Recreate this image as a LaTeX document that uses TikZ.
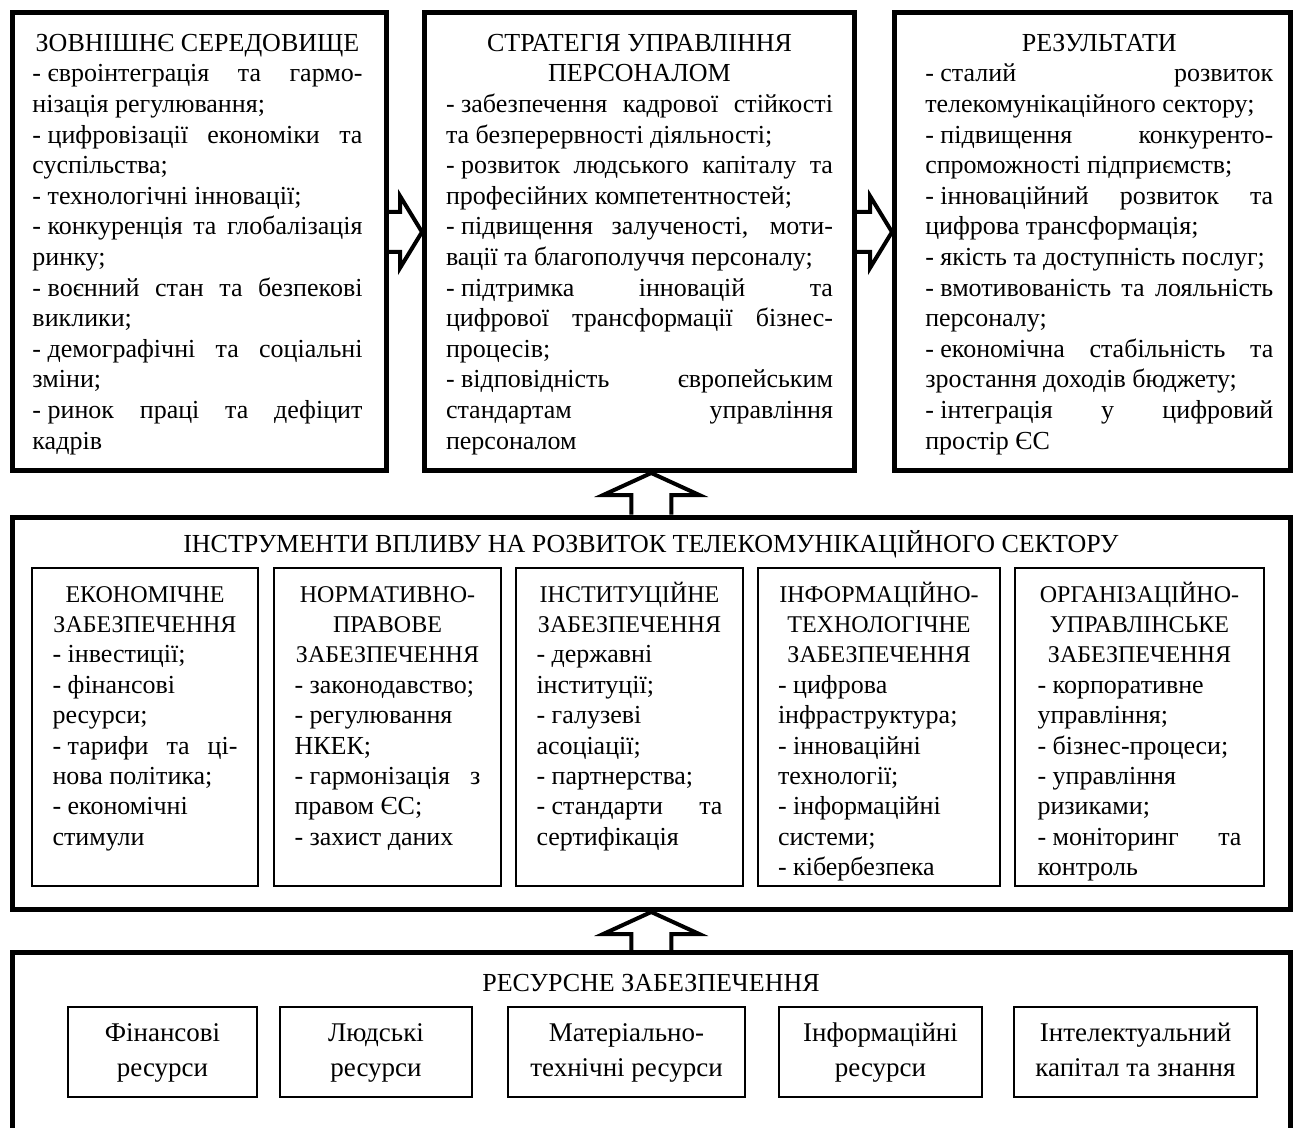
\documentclass[tikz,border=0pt]{standalone}
\usepackage{fontspec}
\setmainfont{Liberation Serif}
\usetikzlibrary{fit,calc,positioning}
\setlength{\parindent}{0pt}
\tolerance=10000
\hbadness=10000
\exhyphenpenalty=10000
\newcommand{\itm}{-\nobreak\hspace{0.25em}}
\newcommand{\ttl}[1]{{\centering\strut#1\par}}
\newcommand{\subttl}[1]{{\centering\fontsize{12pt}{15.2pt}\selectfont\strut#1\par}}
\newcommand{\rightblock}[2]{%
	\draw[blockarrow] ($(#1)+(0,-20)$) -- ($(#2)+(-22,-20)$) -- ($(#2)+(-22,-36)$) -- (#2)
		-- ($(#2)+(-22,36)$) -- ($(#2)+(-22,20)$) -- ($(#1)+(0,20)$);}
\newcommand{\upblock}[2]{%
	\draw[blockarrow] ($(#1)+(-20,0)$) -- ($(#2)+(-20,22)$) -- ($(#2)+(-48,22)$) -- (#2)
		-- ($(#2)+(48,22)$) -- ($(#2)+(20,22)$) -- ($(#1)+(20,0)$);}

\tikzset{
	scheme/.style={
			x=0.5pt, y=-0.5pt,
			frame/.style={draw, line width=2.5pt, inner sep=0pt},
			subframe/.style={draw, line width=0.6pt, inner sep=0pt},
			body/.style={inner sep=0pt, align=justify, font=\fontsize{13pt}{15.3pt}\selectfont},
			subbody/.style={inner sep=0pt, align=justify, font=\fontsize{13pt}{15.2pt}\selectfont},
			head/.style={inner sep=0pt, font=\fontsize{13pt}{15pt}\selectfont},
			restext/.style={inner sep=0pt, align=center, font=\fontsize{13.5pt}{17.5pt}\selectfont},
			blockarrow/.style={line width=2pt, line join=miter},
		}
}

\begin{document}
\begin{tikzpicture}[scheme]
	\clip (0,0) rectangle (1295,1128);
	\node[frame, fit={(12.5,12.5) (386.5,470)}] (env) {};
	\node[frame, fit={(424.5,12.5) (854.5,470.5)}] (strat) {};
	\node[frame, fit={(894.5,12.5) (1290,470)}] (res) {};
	\node[body, text width=165pt, below=9.75pt of env.north, xshift=-1pt] (env text) {
		\ttl{ЗОВНІШНЄ СЕРЕДОВИЩЕ}
		\itm євроінтеграція та гармо-\linebreak нізація регулювання;\par
		\itm цифровізації економіки та\linebreak суспільства;\par
		\itm технологічні інновації;\par
		\itm конкуренція та глобалізація\linebreak ринку;\par
		\itm воєнний стан та безпекові\linebreak виклики;\par
		\itm демографічні та соціальні\linebreak зміни;\par
		\itm ринок праці та дефіцит\linebreak кадрів};
	\node[body, text width=193.5pt, below=9.75pt of strat.north] (strat text) {
		\ttl{СТРАТЕГІЯ УПРАВЛІННЯ\\ПЕРСОНАЛОМ}
		\itm забезпечення кадрової стійкості\linebreak та безперервності діяльності;\par
		\itm розвиток людського капіталу та\linebreak професійних компетентностей;\par
		\itm підвищення залученості, моти-\linebreak вації та благополуччя персоналу;\par
		\itm підтримка інновацій та\linebreak цифрової трансформації бізнес-\linebreak процесів;\par
		\itm відповідність європейським\linebreak стандартам управління\linebreak персоналом};
	\node[body, text width=174pt, below=9.75pt of res.north, xshift=3.5pt] (res text) {
		\ttl{РЕЗУЛЬТАТИ}
		\itm сталий розвиток\linebreak телекомунікаційного сектору;\par
		\itm підвищення конкуренто-\linebreak спроможності підприємств;\par
		\itm інноваційний розвиток та\linebreak цифрова трансформація;\par
		\itm якість та доступність послуг;\par
		\itm вмотивованість та лояльність\linebreak персоналу;\par
		\itm економічна стабільність та\linebreak зростання доходів бюджету;\par
		\itm інтеграція у цифровий\linebreak простір ЄС};

	\node[frame, fit={(12.5,517) (1290,909.5)}] (tools) {};
	\node[head] (tools title) at (651,544) {ІНСТРУМЕНТИ ВПЛИВУ НА РОЗВИТОК ТЕЛЕКОМУНІКАЦІЙНОГО СЕКТОРУ};
	\node[subframe, fit={(32,568) (258,886)}] (econ) {};
	\node[subframe, fit={(274,568) (501,886)}] (legal) {};
	\node[subframe, fit={(516,568) (743,886)}] (inst) {};
	\node[subframe, fit={(758,568) (1000,886)}] (info) {};
	\node[subframe, fit={(1015,568) (1264,886)}] (org) {};
	\node[subbody, text width=92.5pt, below=6.5pt of econ.north] (econ text) {
		\subttl{ЕКОНОМІЧНЕ\\ЗАБЕЗПЕЧЕННЯ}
		\itm інвестиції;\par
		\itm фінансові\newline ресурси;\par
		\itm тарифи та ці-\linebreak нова політика;\par
		\itm економічні\newline стимули};
	\node[subbody, text width=93pt, below=6.5pt of legal.north] (legal text) {
		\subttl{НОРМАТИВНО-\\ПРАВОВЕ\\ЗАБЕЗПЕЧЕННЯ}
		\itm законодавство;\par
		\itm регулювання\newline НКЕК;\par
		\itm гармонізація з\linebreak правом ЄС;\par
		\itm захист даних};
	\node[subbody, text width=93pt, below=6.5pt of inst.north] (inst text) {
		\subttl{ІНСТИТУЦІЙНЕ\\ЗАБЕЗПЕЧЕННЯ}
		\itm державні\newline інституції;\par
		\itm галузеві\newline асоціації;\par
		\itm партнерства;\par
		\itm стандарти та\linebreak сертифікація};
	\node[subbody, text width=101pt, below=6.5pt of info.north] (info text) {
		\subttl{ІНФОРМАЦІЙНО-\\ТЕХНОЛОГІЧНЕ\\ЗАБЕЗПЕЧЕННЯ}
		\itm цифрова\newline інфраструктура;\par
		\itm інноваційні\newline технології;\par
		\itm інформаційні\newline системи;\par
		\itm кібербезпека};
	\node[subbody, text width=102pt, below=6.5pt of org.north] (org text) {
		\subttl{ОРГАНІЗАЦІЙНО-\\УПРАВЛІНСЬКЕ\\ЗАБЕЗПЕЧЕННЯ}
		\itm корпоративне\newline управління;\par
		\itm бізнес-процеси;\par
		\itm управління\newline ризиками;\par
		\itm моніторинг та\linebreak контроль};

	\node[frame, fit={(12.5,952.5) (1290,1160)}] (resources) {};
	\node[head] (resources title) at (651,983) {РЕСУРСНЕ ЗАБЕЗПЕЧЕННЯ};
	\node[subframe, fit={(68,1007) (257,1097)}] (fin) {};
	\node[subframe, fit={(280,1007) (472,1097)}] (human) {};
	\node[subframe, fit={(508,1007) (745,1097)}] (mat) {};
	\node[subframe, fit={(779,1007) (982,1097)}] (infores) {};
	\node[subframe, fit={(1014,1007) (1257,1097)}] (intel) {};
	\node[restext] (fin text) at (fin.center) {\strut Фінансові\\ресурси\strut};
	\node[restext] (human text) at (human.center) {\strut Людські\\ресурси\strut};
	\node[restext] (mat text) at (mat.center) {\strut Матеріально-\\технічні ресурси\strut};
	\node[restext] (infores text) at (infores.center) {\strut Інформаційні\\ресурси\strut};
	\node[restext] (intel text) at (intel.center) {\strut Інтелектуальний\\капітал та знання\strut};

	\coordinate (mid) at (0,232);
	\rightblock{env.east |- mid}{strat.west |- mid}
	\rightblock{strat.east |- mid}{res.west |- mid}
	\upblock{tools.north}{tools.north |- strat.south}
	\upblock{resources.north}{resources.north |- tools.south}
\end{tikzpicture}
\end{document}
